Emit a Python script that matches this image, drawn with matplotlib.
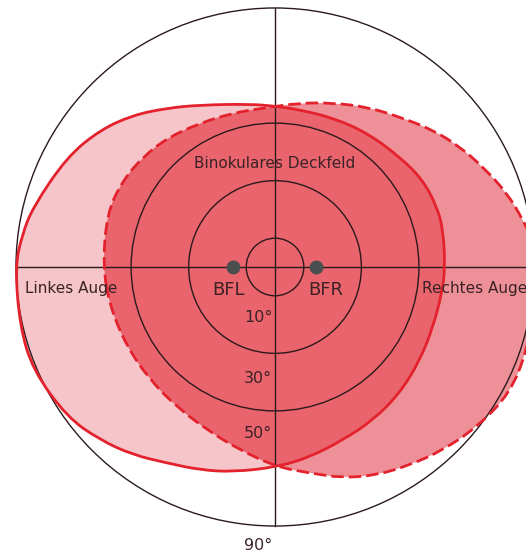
"""
Binokulares Gesichtsfeld: visual fields of both eyes and their overlap
"""

import matplotlib
matplotlib.use("Agg")
import matplotlib.pyplot as plt
from matplotlib.path import Path
from matplotlib.patches import PathPatch, Circle


# rings of the perimeter chart (degrees) and their labels
ringRadii = [10, 30, 50, 90]
ringLabels = ["10°", "30°", "50°", "90°"]
ringLabelY = [-17.7, -38.6, -58.0, -96.6]

# outline of the left eye field (degrees, horizontal / vertical)
leftEyeX = [-90.3, -87.9, -84.1, -72.3, -60.8, -49.3, -37.5, -26.1, -8.7, 0.0,
            8.7, 20.2, 32.0, 43.4, 51.4, 56.3, 58.4, 59.1, 58.0, 54.9,
            50.4, 43.4, 34.1, 23.6, 12.2, 0.7, -14.6, -26.1, -37.5, -49.3,
            -60.8, -72.3, -84.1, -88.6]
leftEyeY = [0.0, 11.1, 20.8, 38.2, 47.6, 52.8, 55.2, 56.3, 56.6, 55.9,
            54.6, 51.8, 46.6, 38.2, 30.2, 20.8, 12.9, 0.0, -9.0, -20.8,
            -32.3, -43.8, -53.2, -60.1, -66.0, -69.5, -71.2, -70.5, -68.1, -65.3,
            -60.1, -52.1, -35.8, -20.8]

# outline of the right eye field
rightEyeX = [-59.8, -58.4, -52.8, -45.9, -37.5, -26.1, -14.6, -4.2, 8.7, 20.2,
             32.0, 43.4, 54.9, 64.3, 72.3, 80.6, 86.2, 89.3, 90.3, 89.6,
             87.6, 81.7, 70.2, 58.4, 46.9, 35.4, 23.6, 12.2, 0.7, -12.2,
             -23.6, -34.1, -43.4, -51.4, -57.3]
rightEyeY = [0.0, 18.8, 30.2, 38.2, 44.8, 50.0, 53.5, 55.2, 57.0, 57.0,
             55.6, 52.1, 47.6, 41.7, 34.7, 25.7, 16.3, 9.4, 0.0, -14.9,
             -28.8, -43.8, -55.6, -63.6, -68.8, -72.3, -73.3, -71.6, -69.5, -63.6,
             -56.6, -48.6, -39.3, -27.8, -13.9]

# blind spots
blindSpotX = [-14.6, 14.2]
blindSpotLabels = ["BFL", "BFR"]

# colours
leftOnly = "#F5C5C9"
rightOnly = "#EE9098"
overlap = "#E9646C"
outlineRed = "#E3222D"
inkColor = "#2B1A1C"
textColor = "#3A2226"


def smoothOutline(xs, ys):
    """
    closed quadratic spline path through the midpoints of the outline,
    with the read points as control points
    """
    pts = list(zip(xs, ys))
    n = len(pts)
    mid = lambda a, b: ((a[0] + b[0]) / 2, (a[1] + b[1]) / 2)
    verts = [mid(pts[-1], pts[0])]
    codes = [Path.MOVETO]
    for i in range(n):
        verts += [pts[i], mid(pts[i], pts[(i + 1) % n])]
        codes += [Path.CURVE3, Path.CURVE3]
    verts.append(verts[0])
    codes.append(Path.CLOSEPOLY)
    return Path(verts, codes)


def drawChart():
    fig = plt.figure(figsize=(5.26, 5.54), dpi=100)
    ax = fig.add_axes([0, 0, 1, 1])
    ax.set_xlim(-95.55, 87.2)
    ax.set_ylim(-99.72, 92.77)
    ax.axis("off")

    leftPath = smoothOutline(leftEyeX, leftEyeY)
    rightPath = smoothOutline(rightEyeX, rightEyeY)

    # fills: each eye alone, then the binocular overlap
    leftFill = PathPatch(leftPath, facecolor=leftOnly, edgecolor="none", zorder=1)
    ax.add_patch(leftFill)
    ax.add_patch(PathPatch(rightPath, facecolor=rightOnly, edgecolor="none", zorder=1))
    both = PathPatch(rightPath, facecolor=overlap, edgecolor="none", zorder=2)
    ax.add_patch(both)
    both.set_clip_path(leftFill)

    # perimeter rings and axes
    for r in ringRadii:
        ax.add_patch(Circle((0, 0), r, fill=False, edgecolor=inkColor, lw=1.0, zorder=3))
    outer = ringRadii[-1]
    ax.plot([-outer, outer], [0, 0], color=inkColor, lw=1.0, zorder=3)
    ax.plot([0, 0], [-outer, outer], color=inkColor, lw=1.0, zorder=3)

    # field outlines
    ax.add_patch(PathPatch(leftPath, fill=False, edgecolor=outlineRed,
                           lw=2.0, zorder=4))
    ax.add_patch(PathPatch(rightPath, fill=False, edgecolor=outlineRed,
                           lw=2.0, linestyle=(0, (4.5, 1.8)), zorder=4))

    # blind spots
    for x, lab in zip(blindSpotX, blindSpotLabels):
        ax.plot(x, 0, "o", ms=9, color="#4B4F50", zorder=5)
        ax.text(x + (-1.5 if x < 0 else 3.5), -8.0, lab, ha="center", va="center",
                fontsize=13, color=textColor, zorder=6)

    for lab, y in zip(ringLabels, ringLabelY):
        ax.text(-1.0, y, lab, ha="right", va="center", fontsize=11.5,
                color=textColor, zorder=6)

    ax.text(0, 36.1, "Binokulares Deckfeld", ha="center", va="center",
            fontsize=11, color=textColor, zorder=6)
    ax.text(-86.8, -7.6, "Linkes Auge", ha="left", va="center",
            fontsize=11, color=textColor, zorder=6)
    ax.text(51.0, -7.6, "Rechtes Auge", ha="left", va="center",
            fontsize=11, color=textColor, zorder=6)

    fig.savefig("out.png", dpi=100)


if __name__ == "__main__":
    plt.rcParams["font.family"] = ["DejaVu Sans"]
    drawChart()
